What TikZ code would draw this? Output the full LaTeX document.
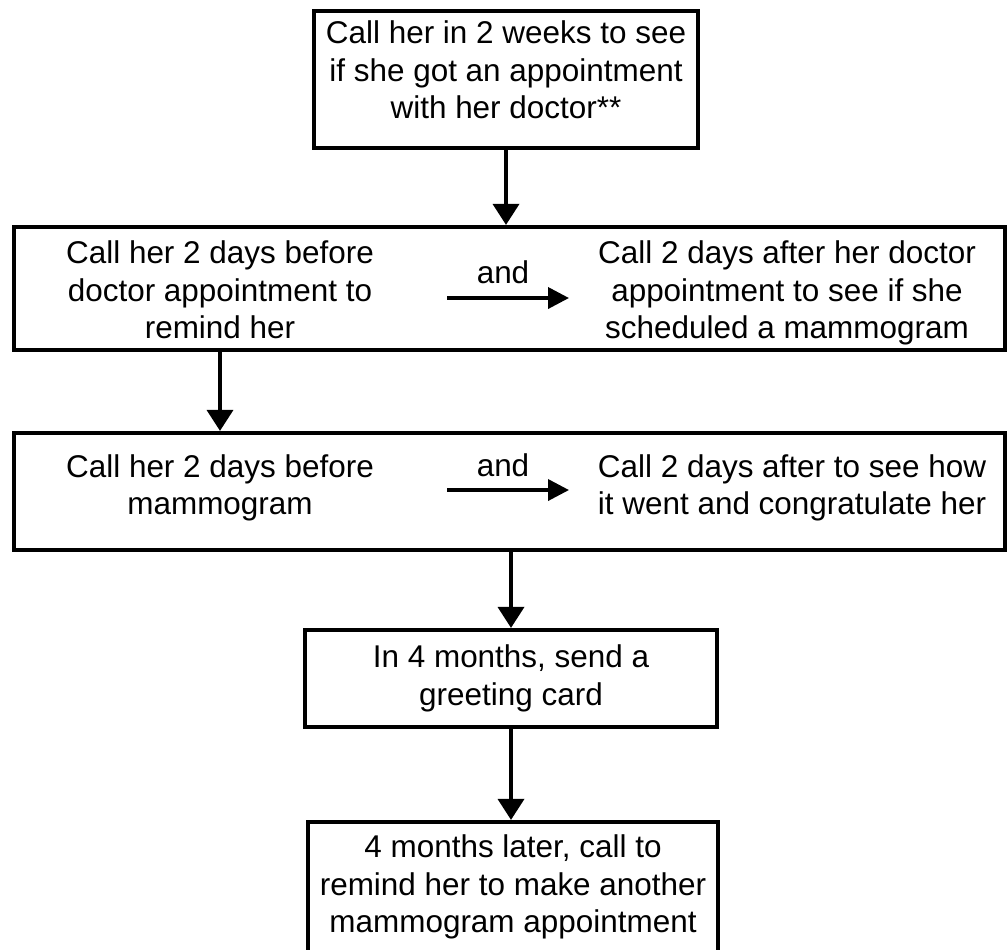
\documentclass[tikz,border=0pt]{standalone}
\usepackage{fontspec}
\setmainfont{Liberation Sans}
\usetikzlibrary{arrows}
\usetikzlibrary{arrows.meta}
\usetikzlibrary{calc}

\begin{document}
\begin{tikzpicture}[
    stepbox/.style={draw=black, line width=2.4pt, align=center, inner sep=0pt, font=\fontsize{17.9}{21.3}\selectfont},
    txt/.style={align=center, inner sep=0pt, font=\fontsize{17.9}{21.3}\selectfont},
    down/.style={line width=2.1pt, -{Triangle[length=0.42cm,width=0.52cm]}},
    side/.style={line width=2.1pt, -{Triangle[length=0.42cm,width=0.42cm]}}]
          \useasboundingbox (0,0) rectangle (20.16,-18.98);
          \fill [white] (0,0) rectangle (20.16,-18.98);
          \clip (0,0) rectangle (20.16,-18.98);

          \node [stepbox, minimum width=7.68cm, minimum height=2.74cm, text depth=0.38cm] (call) at (10.12,-1.59) {Call her in 2 weeks to see\\if she got an appointment\\with her doctor**}; % first call

          \node [stepbox, minimum width=19.82cm, minimum height=2.46cm] (visit) at (10.19,-5.77) {}; % doctor visit row
          \node [txt] (visitb) at (4.4,-5.8) {Call her 2 days before\\doctor appointment to\\remind her};
          \node [txt] (visita) at (15.74,-5.86) {Call 2 days after her doctor\\appointment to see if she\\scheduled a mammogram};
          \node [txt] (visitand) at (10.06,-5.44) {and};
          \coordinate (visitgo) at (8.94,-5.96);
          \coordinate (visitto) at (11.38,-5.96);

          \node [stepbox, minimum width=19.82cm, minimum height=2.34cm] (mammo) at (10.19,-9.83) {}; % mammogram row
          \node [txt] (mammob) at (4.4,-9.76) {Call her 2 days before\\mammogram};
          \node [txt] (mammoa) at (15.84,-9.76) {Call 2 days after to see how\\it went and congratulate her};
          \node [txt] (mammoand) at (10.06,-9.3) {and};
          \coordinate (mammogo) at (8.94,-9.8);
          \coordinate (mammoto) at (11.38,-9.8);

          \node [stepbox, minimum width=8.24cm, minimum height=1.94cm] (card) at (10.22,-13.57) {In 4 months, send a\\greeting card}; % card
          \node [stepbox, minimum width=8.2cm, minimum height=2.6cm] (later) at (10.26,-17.74) {4 months later, call to\\remind her to make another\\mammogram appointment}; % last call

          \draw [side] (visitgo) -- (visitto);
          \draw [side] (mammogo) -- (mammoto);

          \draw [down] (call.south) -- (call.south |- visit.north);
          \draw [down] (visitb |- visit.south) -- (visitb |- mammo.north);
          \draw [down] (card.north |- mammo.south) -- (card.north);
          \draw [down] (card.south) -- (card.south |- later.north);
        \end{tikzpicture}
\end{document}
